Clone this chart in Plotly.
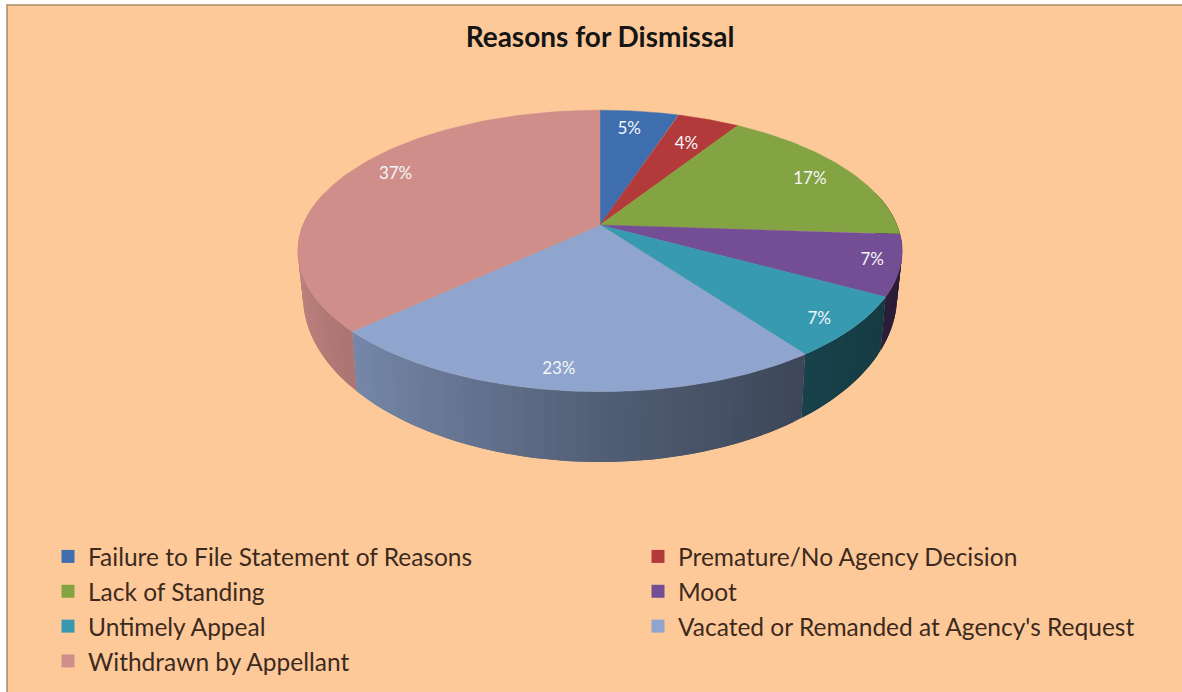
import numpy as np
import plotly.graph_objects as go

# Chart content
TITLE = "Reasons for Dismissal"
categories = [
    "Failure to File Statement of Reasons",
    "Premature/No Agency Decision",
    "Lack of Standing",
    "Moot",
    "Untimely Appeal",
    "Vacated or Remanded at Agency's Request",
    "Withdrawn by Appellant",
]
percent_values = [5, 4, 17, 7, 7, 23, 37]
top_colors = ["#3F6EAE", "#B23A3A", "#84A444", "#744E95", "#389AB0", "#8FA5CE", "#CF8E8A"]

BG = "#FEC999"
W, H = 1182, 692

# Label placement inside each wedge: fraction of the radius, and degrees off the mid-angle
label_radius = [0.81, 0.74, 0.83, 0.91, 0.90, 0.90, 0.84]
label_turn = [-1, 1, 2, 0, 2, 2, 5]


def project_top(theta, r=1.0):
    """Perspective projection of a point on the pie's upper face."""
    u, v = r * np.sin(theta), r * np.cos(theta)
    s = 1 / (1 + 0.184 * v)
    return 600 + 297 * u * s, 225 - 136 * v * s


def project_bottom(theta):
    """Same projection for the lower rim of the pie."""
    u, v = np.sin(theta), np.cos(theta)
    s = 1 / (1 + 0.184 * v)
    return 600 + 292 * u * s, 265.4 - 160.4 * v * s


def hex_rgb(color):
    return np.array([int(color[i:i + 2], 16) for i in (1, 3, 5)], dtype=float)


def wall_shade(theta):
    """Side wall light falloff from left to right."""
    return np.interp(np.sin(theta), [-1, -0.73, 0, 0.58, 1], [0.92, 0.82, 0.57, 0.43, 0.36])


fractions = np.array(percent_values) / sum(percent_values)
edges = np.concatenate([[0], np.cumsum(fractions)]) * 2 * np.pi

fig = go.Figure()

# Side wall: shaded strips along the visible front of the rim, each one
# running under its neighbour so no seams show between them
for i, color in enumerate(top_colors):
    lo, hi = max(edges[i], np.pi * 0.42), min(edges[i + 1], np.pi * 1.58)
    if hi <= lo:
        continue
    n = max(2, int((hi - lo) / 0.03))
    steps = np.linspace(lo, hi, n + 1)
    rgb = hex_rgb(color)
    for j in range(n):
        a, b = steps[j], steps[min(j + 2, n)]
        t = np.array([a, (a + b) / 2, b])
        xt, yt = project_top(t)
        xb, yb = project_bottom(t[::-1])
        c = rgb * wall_shade((steps[j] + steps[j + 1]) / 2)
        css = f"rgb({c[0]:.0f},{c[1]:.0f},{c[2]:.0f})"
        fig.add_trace(go.Scatter(
            x=np.concatenate([xt, xb]), y=np.concatenate([yt, yb]),
            mode="none", fill="toself", fillcolor=css,
            showlegend=False, hoverinfo="skip",
        ))

# Upper face wedges
for i, (name, color) in enumerate(zip(categories, top_colors)):
    t = np.linspace(edges[i], edges[i + 1], 90)
    xr, yr = project_top(t)
    xc, yc = project_top(np.array([0.0]), 0.0)
    fig.add_trace(go.Scatter(
        x=np.concatenate([xc, xr, xc]), y=np.concatenate([yc, yr, yc]),
        mode="lines", fill="toself", fillcolor=color,
        line=dict(color=color, width=0.5),
        name=name, showlegend=False, hoverinfo="skip",
    ))

# Percentage labels on the wedges
mids = (edges[:-1] + edges[1:]) / 2 + np.radians(label_turn)
lx, ly = project_top(mids, np.array(label_radius))
fig.add_trace(go.Scatter(
    x=lx, y=ly, mode="text",
    text=[f"{p}%" for p in percent_values],
    textfont=dict(family="Lato", size=17, color="#F4F6F8"),
    showlegend=False, hoverinfo="skip",
))

# Legend entries use square markers, filling two columns row by row
for i, (name, color) in enumerate(zip(categories, top_colors)):
    fig.add_trace(go.Scatter(
        x=[None], y=[None], mode="markers", name=name,
        legend="legend" if i % 2 == 0 else "legend2",
        marker=dict(symbol="square", size=13, color=color),
    ))

legend_style = dict(
    orientation="v", y=1 - 534 / H, xanchor="left", yanchor="top",
    traceorder="normal", bgcolor="rgba(0,0,0,0)",
    font=dict(family="Lato", size=24.5, color="#3C2A1E"),
)

fig.update_layout(
    width=W, height=H,
    margin=dict(l=0, r=0, t=0, b=0, autoexpand=False),
    paper_bgcolor="white",
    plot_bgcolor="white",
    xaxis=dict(range=[0, W], visible=False, fixedrange=True),
    yaxis=dict(range=[H, 0], visible=False, fixedrange=True),
    title=dict(
        text=f"<b>{TITLE}</b>", x=600 / W, xanchor="center", y=1 - 37 / H, yanchor="middle",
        font=dict(family="Lato", size=28, color="#151515"),
    ),
    legend=dict(x=48 / W, **legend_style),
    legend2=dict(x=638 / W, **legend_style),
    shapes=[dict(
        type="rect", xref="x", yref="y", x0=7, y0=5, x1=W + 5, y1=H + 5,
        fillcolor=BG, line=dict(color="#A98B66", width=1.5), layer="below",
    )],
)

fig.write_html("out.html", config=dict(displayModeBar=False))
